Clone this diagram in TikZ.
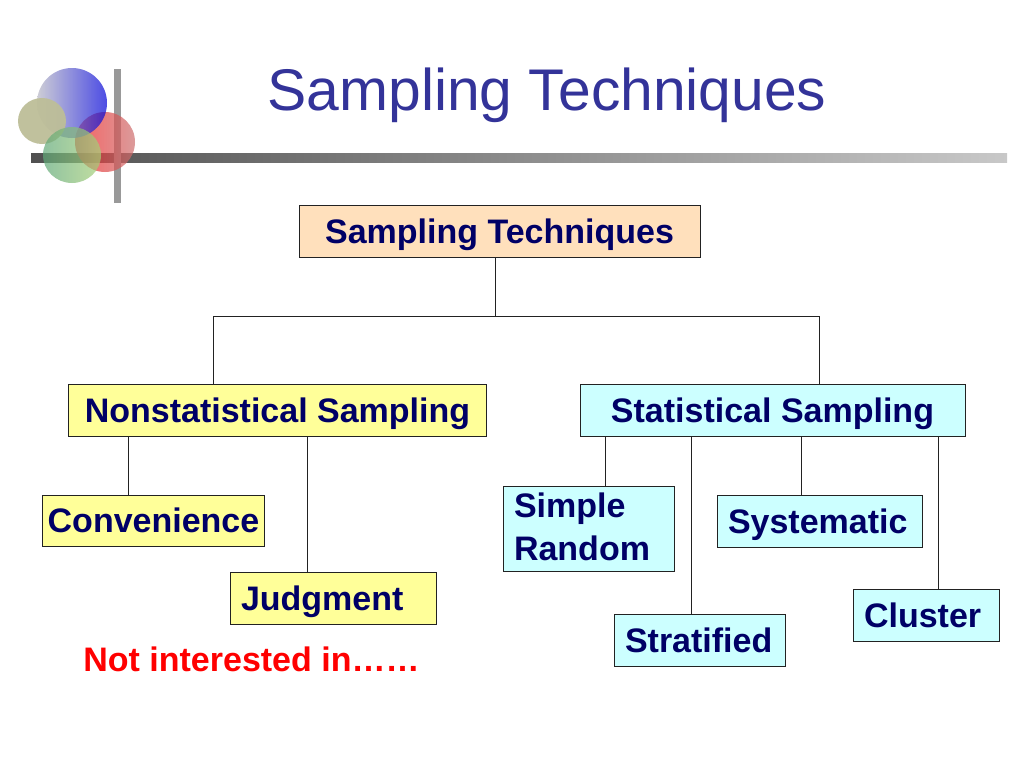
\documentclass[tikz,border=0pt]{standalone}
\usepackage{fontspec}
\setmainfont{Liberation Sans}
\definecolor{titleblue}{HTML}{333399}
\definecolor{boxnavy}{HTML}{000066}
\definecolor{boxpeach}{HTML}{FFE0BC}
\definecolor{boxyellow}{HTML}{FFFF99}
\definecolor{boxcyan}{HTML}{CCFFFF}
\definecolor{barleft}{HTML}{505050}
\definecolor{barright}{HTML}{C8C8C8}
\definecolor{linegray}{HTML}{222222}
\definecolor{ballgray}{HTML}{B8B8C4}
\definecolor{ballblue}{HTML}{0000D8}
\definecolor{ballred}{HTML}{F02020}
\definecolor{ballpink}{HTML}{CC7070}
\definecolor{ballkhaki}{HTML}{BDBE98}
\definecolor{ballgreen}{HTML}{5FA878}
\definecolor{balllime}{HTML}{A8D078}
\tikzset{
    sampbase/.style={draw=linegray,line width=1pt,inner ysep=0pt,inner xsep=11pt,text=boxnavy,font=\fontsize{34}{43.5}\selectfont\bfseries},
    sampbox/.style={sampbase,inner xsep=0pt,text height=30pt,text depth=6pt},
    leftbox/.style={sampbase,align=left,text height=30pt,text depth=6pt},
    branch/.style={draw=linegray,line width=1pt},
    ball/.style={opacity=0.7}
}
\begin{document}
\begin{tikzpicture}[x=1pt,y=-1pt]
    \useasboundingbox (0,0) rectangle (1024,768);
    % logo and rule
    \shade[left color=barleft,right color=barright] (31,153) rectangle (1007,162);
    \fill[gray!80] (114,69) rectangle (121,203);
    \shade[ball,left color=ballred,right color=ballpink] (105,142) circle[radius=30];
    \shade[ball,left color=ballgray,right color=ballblue] (72,103) circle[radius=35];
    \fill[ballkhaki,opacity=0.95] (42,121) ellipse[x radius=24,y radius=23];
    \shade[ball,left color=ballgreen,right color=balllime] (72,155) ellipse[x radius=29,y radius=28];
    \node[text=titleblue,font=\fontsize{58.8}{64}\selectfont] (title) at (547,95) {Sampling Techniques};
    % boxes
    \node[sampbox,fill=boxpeach,minimum width=401pt,minimum height=52pt] (top) at (499.5,231) {Sampling Techniques};
    \node[sampbox,fill=boxyellow,minimum width=418pt,minimum height=52pt] (nonstat) at (277.5,410) {Nonstatistical Sampling};
    \node[sampbox,fill=boxcyan,minimum width=385pt,minimum height=52pt] (stat) at (772.5,410) {Statistical Sampling};
    \node[sampbox,fill=boxyellow,minimum width=222pt,minimum height=51pt] (conv) at (153.5,520.5) {Convenience};
    \node[leftbox,fill=boxyellow,text width=184pt,minimum height=52pt] (judg) at (333,598) {Judgment};
    \node[sampbase,align=left,text depth=47.5pt,fill=boxcyan,text width=149pt,minimum height=85pt] (simple) at (588.5,528.5) {Simple\\Random};
    \node[leftbox,fill=boxcyan,text width=183pt,minimum height=52pt] (syst) at (819.5,521) {Systematic};
    \node[leftbox,fill=boxcyan,text width=149pt,minimum height=52pt] (strat) at (699.5,640) {Stratified};
    \node[leftbox,fill=boxcyan,text width=124pt,minimum height=52pt] (clus) at (926,615) {Cluster};
    \node[text=red,font=\fontsize{34}{38}\selectfont\bfseries] (note) at (251.5,659) {Not interested in……};
    % connectors
    \coordinate (trunk) at (495,316);
    \coordinate (branchl) at (213,316);
    \coordinate (branchr) at (819,316);
    \draw[branch] (top.south -| trunk) -- (trunk);
    \draw[branch] (nonstat.north -| branchl) -- (branchl) -- (branchr) -- (stat.north -| branchr);
    \draw[branch] (nonstat.south -| 128,0) -- (conv.north -| 128,0);
    \draw[branch] (nonstat.south -| 307,0) -- (judg.north -| 307,0);
    \draw[branch] (stat.south -| 605,0) -- (simple.north -| 605,0);
    \draw[branch] (stat.south -| 691,0) -- (strat.north -| 691,0);
    \draw[branch] (stat.south -| 801,0) -- (syst.north -| 801,0);
    \draw[branch] (stat.south -| 938,0) -- (clus.north -| 938,0);
\end{tikzpicture}
\end{document}
